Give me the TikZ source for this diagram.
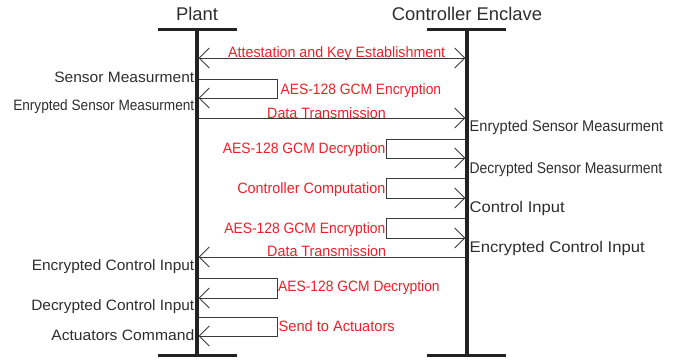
\documentclass[tikz,border=0pt]{standalone}
\usepackage{fontspec}
\setmainfont{Liberation Sans}
\usetikzlibrary{arrows.meta}
\definecolor{txt}{HTML}{2E2E2E}
\definecolor{msgred}{HTML}{EE1F27}
\definecolor{ln}{HTML}{3A3A3A}
\definecolor{life}{HTML}{222222}
\newcommand{\fitw}[2]{\resizebox{#1pt}{\height}{#2}}
\tikzset{
  lifeline/.style={line width=3.3pt, draw=life},
  headbar/.style={line width=3pt, draw=life},
  title/.style={font=\fontsize{18.4}{20}\selectfont, text=txt, inner sep=0pt, anchor=base},
  lbl/.style={font=\fontsize{15}{16}\selectfont, text=txt, inner sep=0pt, anchor=base east},
  rlbl/.style={font=\fontsize{15.5}{16}\selectfont, text=txt, inner sep=0pt, anchor=base west},
  msg/.style={font=\fontsize{15}{16}\selectfont, text=msgred, inner sep=0pt},
  conn/.style={draw=ln, line width=0.9pt},
  tipend/.style={-{Straight Barb[length=10pt,width=20pt]}},
  tipboth/.style={{Straight Barb[length=10pt,width=20pt]}-{Straight Barb[length=10pt,width=20pt]}}
}
\begin{document}
\begin{tikzpicture}[x=1pt,y=-1pt]
\useasboundingbox (0,0) rectangle (678,360);
% titles
\node[title] (tplant) at (197,20) {Plant};
\node[title] (tctrl) at (467,20) {Controller Enclave};
% lifelines
\coordinate (pt) at (197,29); \coordinate (pb) at (197,355);
\coordinate (ct) at (467,29); \coordinate (cb) at (467,355);
\coordinate (ptl) at (158,29); \coordinate (ptr) at (237,29);
\coordinate (pbl) at (158,355); \coordinate (pbr) at (237,355);
\coordinate (ctl) at (427,29); \coordinate (ctr) at (506,29);
\coordinate (cbl) at (427,355); \coordinate (cbr) at (506,355);
\draw[lifeline] (pt) -- (pb);
\draw[lifeline] (ct) -- (cb);
\draw[headbar] (ptl) -- (ptr);
\draw[headbar] (pbl) -- (pbr);
\draw[headbar] (ctl) -- (ctr);
\draw[headbar] (cbl) -- (cbr);

% attestation
\coordinate (a1) at (198.7,58); \coordinate (a2) at (465.3,58);
\draw[conn,tipboth] (a1) -- (a2);
\node[msg,anchor=base west] (attest) at (228,57) {\fitw{217}{Attestation and Key Establishment}};

% plant encryption loop
\coordinate (pe1) at (198.7,79); \coordinate (pe2) at (277,79);
\coordinate (pe3) at (277,98); \coordinate (pe4) at (198.7,98);
\draw[conn,tipend] (pe1) -- (pe2) -- (pe3) -- (pe4);
\node[msg,anchor=base west] (penc) at (280.5,94) {\fitw{160.5}{AES-128 GCM Encryption}};
\node[lbl] (sm) at (194.5,82) {\fitw{140}{Sensor Measurment}};
\node[lbl] (esm) at (194.5,110) {\fitw{181}{Enrypted Sensor Measurment}};

% data transmission 1
\coordinate (d1a) at (198.7,118); \coordinate (d1b) at (465.3,118);
\draw[conn,tipend] (d1a) -- (d1b);
\node[msg,anchor=base west] (dt1) at (267,118) {\fitw{118.5}{Data Transmission}};
\node[rlbl] (resm) at (469.5,131.5) {\fitw{193.5}{Enrypted Sensor Measurment}};

% controller decryption loop
\coordinate (cd1) at (465.3,139); \coordinate (cd2) at (386.5,139);
\coordinate (cd3) at (386.5,158); \coordinate (cd4) at (465.3,158);
\draw[conn,tipend] (cd1) -- (cd2) -- (cd3) -- (cd4);
\node[msg,anchor=base east] (cdec) at (385.5,153) {\fitw{162.5}{AES-128 GCM Decryption}};
\node[rlbl] (dsm) at (469.5,173) {\fitw{192.5}{Decrypted Sensor Measurment}};

% controller computation loop
\coordinate (cc1) at (465.3,178); \coordinate (cc2) at (386.5,178);
\coordinate (cc3) at (386.5,198); \coordinate (cc4) at (465.3,198);
\draw[conn,tipend] (cc1) -- (cc2) -- (cc3) -- (cc4);
\node[msg,anchor=base east] (ccomp) at (385.5,193) {\fitw{148}{Controller Computation}};
\node[rlbl] (ci) at (469.5,212.5) {\fitw{95}{Control Input}};

% controller encryption loop
\coordinate (ce1) at (465.3,218); \coordinate (ce2) at (386.5,218);
\coordinate (ce3) at (386.5,238); \coordinate (ce4) at (465.3,238);
\draw[conn,tipend] (ce1) -- (ce2) -- (ce3) -- (ce4);
\node[msg,anchor=base east] (cenc) at (385.5,233) {\fitw{161}{AES-128 GCM Encryption}};
\node[rlbl] (eci) at (469.5,252) {\fitw{175}{Encrypted Control Input}};

% data transmission 2
\coordinate (d2a) at (465.3,257); \coordinate (d2b) at (198.7,257);
\draw[conn,tipend] (d2a) -- (d2b);
\node[msg,anchor=base west] (dt2) at (267,256.5) {\fitw{119}{Data Transmission}};
\node[lbl] (leci) at (194.5,270) {\fitw{162.5}{Encrypted Control Input}};

% plant decryption loop
\coordinate (pd1) at (198.7,278); \coordinate (pd2) at (277,278);
\coordinate (pd3) at (277,298); \coordinate (pd4) at (198.7,298);
\draw[conn,tipend] (pd1) -- (pd2) -- (pd3) -- (pd4);
\node[msg,anchor=base west] (pdec) at (278,291.5) {\fitw{161.5}{AES-128 GCM Decryption}};
\node[lbl] (dci) at (194.5,310.5) {\fitw{163}{Decrypted Control Input}};

% send to actuators loop
\coordinate (ps1) at (198.7,317); \coordinate (ps2) at (277,317);
\coordinate (ps3) at (277,336); \coordinate (ps4) at (198.7,336);
\draw[conn,tipend] (ps1) -- (ps2) -- (ps3) -- (ps4);
\node[msg,anchor=base west] (psend) at (278.5,331) {\fitw{116}{Send to Actuators}};
\node[lbl] (ac) at (194.5,340) {\fitw{143}{Actuators Command}};
\end{tikzpicture}
\end{document}
